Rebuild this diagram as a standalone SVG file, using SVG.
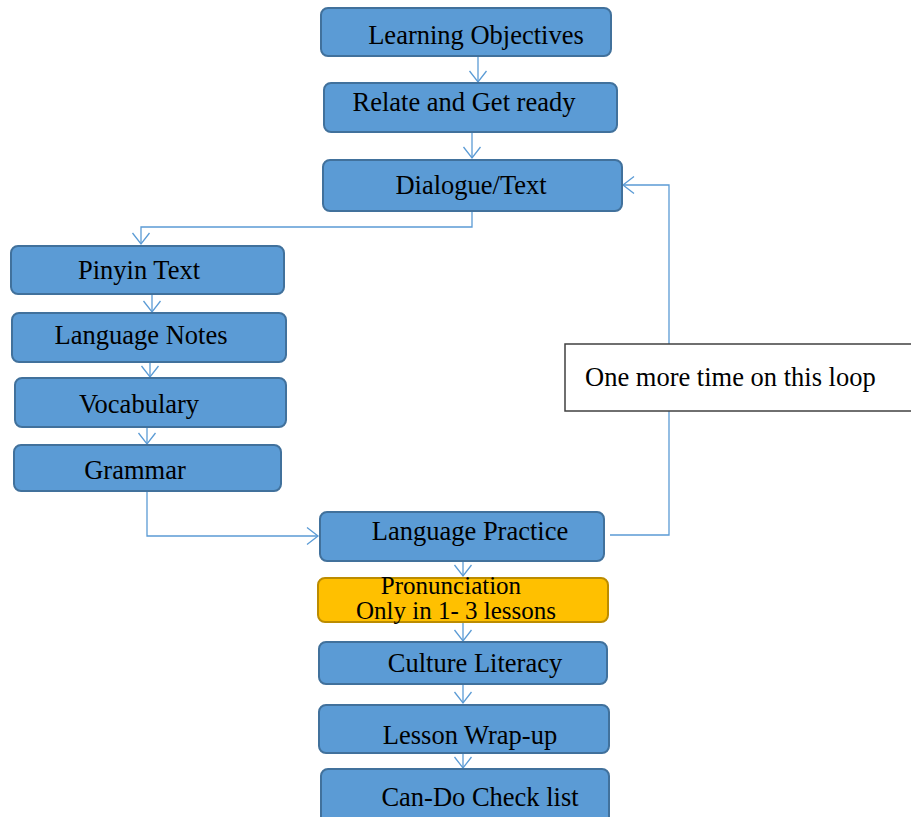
<svg xmlns="http://www.w3.org/2000/svg" width="911" height="817" viewBox="0 0 911 817">
  <style>
    .box { fill: #5B9BD5; stroke: #41719C; stroke-width: 2; }
    .gold { fill: #FFC000; stroke: #BC8C00; stroke-width: 2; }
    .note { fill: #FFFFFF; stroke: #404040; stroke-width: 1.5; }
    .lbl { font-family: "Liberation Serif", "Times New Roman", serif; font-size: 26.5px; fill: #000000; text-anchor: middle; }
    .lbl-two { font-family: "Liberation Serif", "Times New Roman", serif; font-size: 25px; fill: #000000; text-anchor: middle; }
    .lbl-left { font-family: "Liberation Serif", "Times New Roman", serif; font-size: 26.5px; fill: #000000; }
    .edge { fill: none; stroke: #5B9BD5; stroke-width: 1.3; marker-end: url(#vhead); }
    .plain { fill: none; stroke: #5B9BD5; stroke-width: 1.3; }
  </style>
  <defs>
    <!-- open V arrowhead shared by all connectors -->
    <marker id="vhead" markerUnits="userSpaceOnUse" markerWidth="24" markerHeight="24" refX="12" refY="12" orient="auto" overflow="visible">
      <path d="M1,3.5 L12,12 L1,20.5" fill="none" stroke="#5B9BD5" stroke-width="1.3"/>
    </marker>
  </defs>

  <g id="connectors">
    <path class="edge" d="M478,56 V82"/>
    <path class="edge" d="M472,132 V158"/>
    <path class="edge" d="M472,211 V227 H141 V244"/>
    <path class="edge" d="M152,294 V312"/>
    <path class="edge" d="M150,362 V377"/>
    <path class="edge" d="M147,427 V444"/>
    <path class="edge" d="M147,491 V536 H318"/>
    <path class="plain" d="M610,535 H669 V411"/>
    <path class="edge" d="M669,344 V185 H623"/>
    <path class="edge" d="M463,561 V576"/>
    <path class="edge" d="M463,622 V641"/>
    <path class="edge" d="M463,684 V703"/>
    <path class="edge" d="M463,753 V768"/>
  </g>

  <g id="learning-objectives">
    <rect class="box" x="321" y="8" width="290" height="48" rx="7"/>
    <text class="lbl" x="476" y="44">Learning Objectives</text>
  </g>
  <g id="relate">
    <rect class="box" x="324" y="83" width="293" height="49" rx="7"/>
    <text class="lbl" x="464" y="111">Relate and Get ready</text>
  </g>
  <g id="dialogue">
    <rect class="box" x="323" y="160" width="299" height="51" rx="7"/>
    <text class="lbl" x="471" y="194">Dialogue/Text</text>
  </g>
  <g id="pinyin">
    <rect class="box" x="11" y="246" width="273" height="48" rx="7"/>
    <text class="lbl" x="139" y="279">Pinyin Text</text>
  </g>
  <g id="language-notes">
    <rect class="box" x="12" y="313" width="274" height="49" rx="7"/>
    <text class="lbl" x="141" y="344">Language Notes</text>
  </g>
  <g id="vocabulary">
    <rect class="box" x="15" y="378" width="271" height="49" rx="7"/>
    <text class="lbl" x="139" y="413">Vocabulary</text>
  </g>
  <g id="grammar">
    <rect class="box" x="14" y="445" width="267" height="46" rx="7"/>
    <text class="lbl" x="135" y="479">Grammar</text>
  </g>
  <g id="language-practice">
    <rect class="box" x="320" y="512" width="284" height="49" rx="7"/>
    <text class="lbl" x="470" y="540">Language Practice</text>
  </g>
  <g id="pronunciation">
    <rect class="gold" x="318" y="578" width="290" height="44" rx="7"/>
    <text class="lbl-two" x="451" y="594">Pronunciation</text>
    <text class="lbl-two" x="456" y="619">Only in 1- 3 lessons</text>
  </g>
  <g id="culture-literacy">
    <rect class="box" x="319" y="642" width="288" height="42" rx="7"/>
    <text class="lbl" x="475" y="672">Culture Literacy</text>
  </g>
  <g id="lesson-wrap-up">
    <rect class="box" x="319" y="705" width="290" height="48" rx="7"/>
    <text class="lbl" x="470" y="744">Lesson Wrap-up</text>
  </g>
  <g id="can-do">
    <rect class="box" x="321" y="769" width="288" height="56" rx="7"/>
    <text class="lbl" x="480" y="806">Can-Do Check list</text>
  </g>
  <g id="loop-note">
    <rect class="note" x="565" y="344" width="360" height="67"/>
    <text class="lbl-left" x="585" y="386">One more time on this loop</text>
  </g>
</svg>
